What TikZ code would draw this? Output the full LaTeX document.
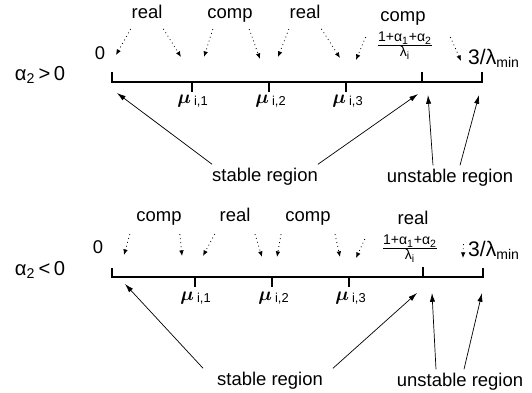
\documentclass[tikz,border=0pt]{standalone}
\usepackage{fontspec}
\setmainfont{Liberation Sans}
\usepackage{bm}
\usetikzlibrary{arrows.meta,calc}

\tikzset{
  lbl/.style={inner sep=1pt,font=\fontsize{10.5}{12}\selectfont},
  word/.style={lbl,text height=7.5pt,text depth=2pt},
  dotarrow/.style={dash pattern=on 0.5pt off 1.8pt,line width=0.45pt,
    -{Latex[length=3.2pt,width=2.6pt]},shorten <=1pt},
  ptr/.style={line width=0.4pt,-{Latex[length=5pt,width=3pt]}},
  axisline/.style={line width=0.6pt}
}

\begin{document}
\begin{tikzpicture}[x=0.02cm,y=-0.02cm]
    \useasboundingbox (0,0) rectangle (532,393);

    % alpha_2 > 0
    \node[lbl,font=\fontsize{11.5}{13}\selectfont] (ca) at (40,75) {α\textsubscript{2}\,>\,0};
    \foreach \n/\x in {a0/112,a1/192,a2/269,a3/346,a4/422,a5/482}
      \coordinate (\n) at (\x,82);
    \draw[axisline] (a0) ++(0,-10) -- (a0) -- (a5) -- ++(0,-10);
    \foreach \n in {a1,a2,a3}
      \draw[axisline] (\n) -- ++(0,10);
    \draw[axisline] (a4) -- ++(0,-10);

    \node[lbl] (za) at (100,53) {0};
    \node[lbl] (ma1) at (193,101) {$\bm{\mu}$\,\textsubscript{i,1}};
    \node[lbl] (ma2) at (271,101) {$\bm{\mu}$\,\textsubscript{i,2}};
    \node[lbl] (ma3) at (348,101) {$\bm{\mu}$\,\textsubscript{i,3}};
    \node[lbl] (fa) at (405,46) {$\frac{\mbox{\footnotesize 1+α\textsubscript{1}+α\textsubscript{2}}}{\mbox{\footnotesize λ\textsubscript{i}}}$};
    \node[lbl,font=\fontsize{12}{14}\selectfont] (la) at (494,58) {3/λ\textsubscript{min}};

    \node[word] (ra1) at (147,14) {real};
    \node[word] (ca1) at (230,14) {comp};
    \node[word] (ra2) at (305,14) {real};
    \node[word] (ca2) at (403,17) {comp};

    \coordinate (pa0) at (116,55);  \coordinate (pa1) at (181,57);
    \coordinate (pa2) at (204,57);  \coordinate (pa3) at (260,59);
    \coordinate (pa4) at (278,57);  \coordinate (pa5) at (340,58);
    \coordinate (pa6) at (356,60);  \coordinate (pa7) at (461,61);
    \draw[dotarrow] ($(ra1.south west)+(2,3)$) -- (pa0);
    \draw[dotarrow] ($(ra1.south east)+(-2,3)$) -- (pa1);
    \draw[dotarrow] ($(ca1.south west)+(8,3)$) -- (pa2);
    \draw[dotarrow] ($(ca1.south east)+(-6,3)$) -- (pa3);
    \draw[dotarrow] ($(ra2.south west)+(2,3)$) -- (pa4);
    \draw[dotarrow] ($(ra2.south east)+(-2,3)$) -- (pa5);
    \draw[dotarrow] ($(ca2.south west)+(-12,8)$) -- (pa6);
    \draw[dotarrow] ($(ca2.south east)+(22,8)$) -- (pa7);

    \node[lbl] (sa) at (265,177) {stable region};
    \node[lbl] (ua) at (450,178) {unstable region};
    \coordinate (qa0) at (117,93);  \coordinate (qa1) at (418,94);
    \coordinate (qa2) at (428,95);  \coordinate (qa3) at (479,95);
    \draw[ptr] ($(sa.north west)+(2,-2)$) -- (qa0);
    \draw[ptr] ($(sa.north east)+(-2,-2)$) -- (qa1);
    \draw[ptr] ($(ua.north)+(-17,-2)$) -- (qa2);
    \draw[ptr] ($(ua.north)+(10,-2)$) -- (qa3);

    % alpha_2 < 0
    \node[lbl,font=\fontsize{11.5}{13}\selectfont] (cb) at (40,270) {α\textsubscript{2}\,<\,0};
    \foreach \n/\x in {b0/112,b1/195,b2/272,b3/349,b4/423,b5/483}
      \coordinate (\n) at (\x,277);
    \draw[axisline] (b0) ++(0,-9) -- (b0) -- (b5) -- ++(0,-9);
    \foreach \n in {b1,b2,b3}
      \draw[axisline] (\n) -- ++(0,10);
    \draw[axisline] (b4) -- ++(0,-10);

    \node[lbl] (zb) at (98,247) {0};
    \node[lbl] (mb1) at (196,298) {$\bm{\mu}$\,\textsubscript{i,1}};
    \node[lbl] (mb2) at (274,298) {$\bm{\mu}$\,\textsubscript{i,2}};
    \node[lbl] (mb3) at (351,298) {$\bm{\mu}$\,\textsubscript{i,3}};
    \node[lbl] (fb) at (410,249) {$\frac{\mbox{\footnotesize 1+α\textsubscript{1}+α\textsubscript{2}}}{\mbox{\footnotesize λ\textsubscript{i}}}$};
    \node[lbl,font=\fontsize{12}{14}\selectfont] (lb) at (494,250) {3/λ\textsubscript{min}};

    \node[word] (cb1) at (159,217) {comp};
    \node[word] (rb1) at (235,217) {real};
    \node[word] (cb2) at (308,217) {comp};
    \node[word] (rb2) at (413,220) {real};

    \coordinate (pb0) at (124,255);  \coordinate (pb1) at (182,256);
    \coordinate (pb2) at (203,256);  \coordinate (pb3) at (262,257);
    \coordinate (pb4) at (277,257);  \coordinate (pb5) at (340,257);
    \coordinate (pb6) at (356,258);  \coordinate (pb7) at (463,258);
    \draw[dotarrow] ($(cb1.south west)+(-4,5)$) -- (pb0);
    \draw[dotarrow] ($(cb1.south east)+(-4,5)$) -- (pb1);
    \draw[dotarrow] ($(rb1.south west)+(-2,5)$) -- (pb2);
    \draw[dotarrow] ($(rb1.south east)+(2,5)$) -- (pb3);
    \draw[dotarrow] ($(cb2.south west)+(-2,5)$) -- (pb4);
    \draw[dotarrow] ($(cb2.south east)+(2,5)$) -- (pb5);
    \draw[dotarrow] ($(rb2.south west)+(-30,7)$) -- (pb6);
    \draw[dotarrow] ($(rb2.south east)+(33,12)$) -- (pb7);

    \node[lbl] (sb) at (270,381) {stable region};
    \node[lbl] (ub) at (460,382) {unstable region};
    \coordinate (qb0) at (125,284);  \coordinate (qb1) at (417,293);
    \coordinate (qb2) at (432,293);  \coordinate (qb3) at (482,293);
    \draw[ptr] ($(sb.north west)+(-12,-2)$) -- (qb0);
    \draw[ptr] ($(sb.north east)+(8,-2)$) -- (qb1);
    \draw[ptr] ($(ub.north)+(-24,-2)$) -- (qb2);
    \draw[ptr] ($(ub.north)+(4,-2)$) -- (qb3);
\end{tikzpicture}
\end{document}
